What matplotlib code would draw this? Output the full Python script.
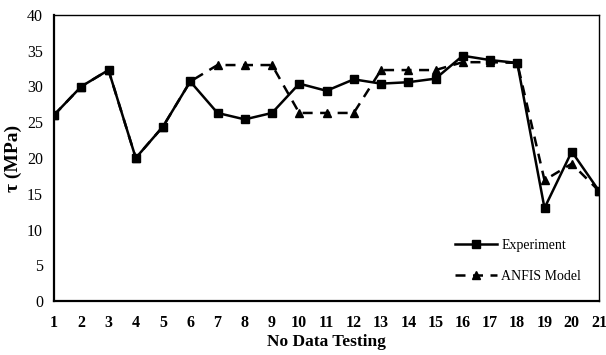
import numpy as np
import matplotlib.pyplot as plt

samples = np.arange(1, 22)
experiment = [26.0, 30.0, 32.3, 20.0, 24.4, 30.7, 26.3, 25.4, 26.3, 30.4, 29.4,
              31.0, 30.4, 30.6, 31.1, 34.3, 33.7, 33.3, 13.0, 20.9, 15.4]
anfis = [26.0, 30.0, 32.3, 20.0, 24.4, 30.7, 33.0, 33.0, 33.0, 26.3, 26.3,
         26.3, 32.3, 32.3, 32.3, 33.4, 33.4, 33.3, 16.9, 19.2, 15.4]

plt.rcParams['font.family'] = ['Liberation Serif', 'DejaVu Serif']

fig = plt.figure(figsize=(6.06, 3.55), dpi=100)
ax = fig.add_axes([54 / 606, 1 - 301 / 355, 545 / 606, 286 / 355])

ax.plot(samples, experiment, color='black', lw=1.8, marker='s', ms=6,
        label='Experiment', zorder=3)
ax.plot(samples, anfis, color='black', lw=1.8, ls=(0, (4, 3)), marker='^', ms=5.5,
        label='ANFIS Model', zorder=2)

ax.set_xlim(1, 21)
ax.set_ylim(0, 40)
ax.set_xticks(samples)
ax.set_yticks(np.arange(0, 41, 5))
ax.tick_params(axis='x', length=0, pad=10, labelsize=11.5)
ax.tick_params(axis='y', length=0, pad=8, labelsize=11.5)
for lab in ax.get_xticklabels():
    lab.set_fontweight('bold')

for side in ['left', 'bottom']:
    ax.spines[side].set_linewidth(1.6)
for side in ['top', 'right']:
    ax.spines[side].set_linewidth(1.0)

ax.set_xlabel('No Data Testing', fontsize=12.5, fontweight='bold', labelpad=2)
ax.set_ylabel('τ (MPa)', fontsize=14, fontweight='bold')
ax.yaxis.set_label_coords(-0.058, 0.5)

ax.legend(loc='lower right', frameon=False, fontsize=10, handlelength=3,
          handletextpad=0.3, labelspacing=1.3, bbox_to_anchor=(0.99, 0.02))

fig.savefig('out.png', dpi=100)
